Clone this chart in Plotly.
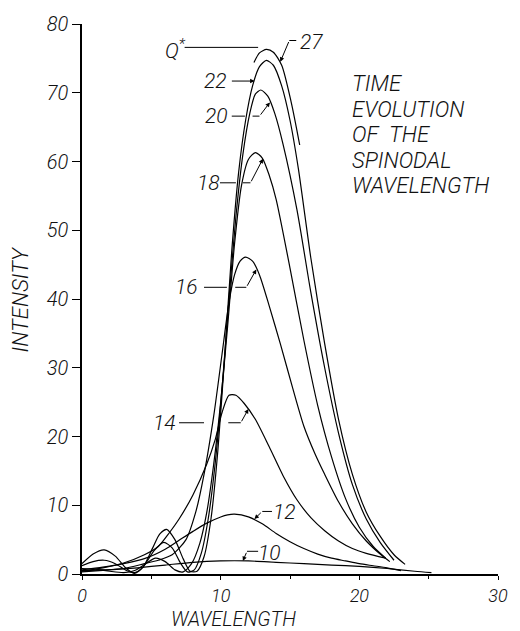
import plotly.graph_objects as go

# ---- data ----
x10 = [0, 2, 4, 6, 8, 10, 12, 14, 16, 18, 20, 22, 24, 25.2]
y10 = [0.3, 0.6, 0.9, 1.3, 1.7, 1.9, 1.9, 1.7, 1.5, 1.3, 1.1, 0.8, 0.4, 0.2]

x12 = [0, 1.5, 3, 4.6, 6, 7, 8, 9, 10, 10.5, 11, 12, 13, 14, 15, 16, 17, 18, 19, 20, 21, 22, 23]
y12 = [0.6, 1.0, 1.5, 2.3, 3.6, 4.9, 6.2, 7.4, 8.3, 8.6, 8.7, 8.3, 7.3, 5.9, 4.7, 3.7, 2.9, 2.3, 1.9, 1.5, 1.2, 0.9, 0.5]

x14 = [0, 1.5, 3, 4.5, 5.5, 6.3, 7, 8, 9, 9.6, 10.1, 10.6, 11.1, 11.7, 12.5, 13.5, 14.5, 15.5, 16.5, 17.5, 18.5, 19.5, 20.5, 21.9]
y14 = [0.4, 0.9, 1.6, 2.8, 4.0, 6.0, 8.0, 11.5, 16.0, 19.5, 23.5, 26.0, 26.0, 24.8, 22.5, 18.5, 14.3, 10.8, 8.2, 6.3, 4.8, 3.7, 3.0, 2.3]

x16 = [0, 1.5, 3, 4.5, 5.5, 6.5, 7.5, 8.2, 8.8, 9.5, 10.1, 10.6, 11.0, 11.4, 11.8, 12.3, 12.8, 13.5, 14.3, 15.2, 16.0, 16.8, 17.5, 18.5, 19.5, 20.5, 21.5, 22.2]
y16 = [0.5, 0.6, 0.8, 1.5, 2.0, 2.8, 5.0, 9.0, 14.5, 23.0, 32.0, 39.5, 43.5, 45.5, 46.1, 45.5, 43.5, 39.0, 33.5, 27.0, 21.5, 17.5, 14.5, 10.5, 7.3, 4.8, 2.9, 1.8]

x18 = [0, 1, 2, 3, 3.8, 4.6, 5.3, 6.0, 6.7, 7.3, 7.9, 8.5, 9.0, 9.5, 10.0, 10.5, 11.0, 11.5, 12.0, 12.5, 13.0, 13.5, 14.0, 15.0, 16.0, 17.0, 18.0, 19.0, 20.0, 21.0, 21.9]
y18 = [0.8, 0.7, 0.4, 0.2, 0.5, 1.5, 2.3, 1.8, 0.6, 0.3, 1.5, 4.5, 9.0, 16.0, 25.0, 36.0, 48.0, 56.5, 60.3, 61.3, 60.5, 58.0, 54.5, 44.5, 34.0, 24.5, 17.0, 11.0, 6.8, 4.0, 2.3]

x20 = [0, 0.8, 1.6, 2.4, 3.2, 3.8, 4.4, 5.2, 5.9, 6.5, 7.1, 7.6, 8.1, 8.6, 9.1, 9.6, 10.1, 10.6, 11.1, 11.6, 12.1, 12.5, 12.9, 13.4, 13.9, 14.5, 15.5, 16.5, 17.5, 18.5, 19.5, 20.5, 21.5, 22.5]
y20 = [1.2, 1.8, 2.0, 1.5, 0.5, 0.2, 1.0, 3.4, 4.6, 3.8, 1.6, 0.3, 0.6, 3.0, 8.0, 16.0, 27.0, 40.0, 52.0, 61.0, 67.0, 69.8, 70.4, 69.5, 67.0, 62.5, 53.0, 41.0, 30.0, 20.5, 13.0, 8.0, 4.6, 2.0]

x22 = [0, 0.8, 1.6, 2.4, 3.2, 3.8, 4.4, 5.1, 5.6, 6.1, 6.7, 7.3, 7.8, 8.3, 8.8, 9.3, 9.8, 10.3, 10.8, 11.3, 11.8, 12.3, 12.8, 13.3, 13.8, 14.4, 15.0, 15.6, 16.5, 17.5, 18.5, 19.5, 20.5, 21.5, 22.5, 23.3]
y22 = [1.5, 2.9, 3.5, 2.6, 0.8, 0.1, 1.0, 3.8, 5.8, 6.5, 5.0, 2.2, 0.4, 0.4, 2.5, 8.0, 18.0, 32.0, 47.0, 58.5, 66.0, 71.0, 73.8, 74.7, 74.0, 71.0, 66.0, 59.0, 46.0, 33.5, 22.5, 14.5, 9.0, 5.5, 2.8, 1.4]

x27 = [12.4, 12.8, 13.3, 13.8, 14.4, 15.1, 15.7]
y27 = [74.4, 75.8, 76.3, 75.9, 74.0, 68.5, 62.4]

series = [(x10, y10), (x12, y12), (x14, y14), (x16, y16), (x18, y18), (x20, y20), (x22, y22), (x27, y27)]

x_ticks = [0, 10, 20, 30]
y_ticks = [0, 10, 20, 30, 40, 50, 60, 70, 80]

FONT = "Roboto"
INK = "#111111"
WT = 300


def fnt(size):
    return dict(family=FONT, size=size, color=INK, style="italic", weight=WT)


fig = go.Figure()
for xs, ys in series:
    fig.add_trace(go.Scatter(x=xs, y=ys, mode="lines",
                             line=dict(color="black", width=1.2, shape="spline", smoothing=0.7),
                             showlegend=False, hoverinfo="skip"))

# leader lines (data coords)
segs = [
    (7.4, 76.6, 12.7, 76.6),          # Q*
    (9.95, 56.9, 11.1, 56.9), (11.6, 56.9, 12.15, 56.9),   # 18
    (10.8, 66.6, 11.75, 66.6), (12.3, 66.6, 12.8, 66.6),   # 20
    (8.8, 41.7, 10.45, 41.7), (11.05, 41.7, 11.85, 41.7),  # 16
    (7.0, 22.0, 8.8, 22.0), (10.55, 22.0, 11.45, 22.0),    # 14
    (13.7, 9.1, 13.0, 9.1),                                 # 12
    (12.7, 3.3, 11.9, 3.3),                                 # 10
    (15.45, 77.6, 14.95, 77.6),                             # 27
]
for x0, y0, x1, y1 in segs:
    fig.add_shape(type="line", x0=x0, y0=y0, x1=x1, y1=y1, xref="x", yref="y",
                  line=dict(color="black", width=1))

arrows = [
    (12.45, 71.7, 10.7, 71.7),   # 22
    (13.55, 68.6, 12.8, 66.6),   # 20
    (13.05, 60.4, 12.15, 56.9),  # 18
    (12.57, 44.3, 11.85, 41.7),  # 16
    (12.0, 24.0, 11.45, 22.0),   # 14
    (12.43, 8.0, 13.0, 9.1),     # 12
    (11.6, 1.9, 11.9, 3.3),      # 10
    (14.3, 74.5, 14.95, 77.6),   # 27
]
for x, y, ax, ay in arrows:
    fig.add_annotation(x=x, y=y, ax=ax, ay=ay, xref="x", yref="y", axref="x", ayref="y",
                       showarrow=True, arrowhead=2, arrowsize=0.9, arrowwidth=1,
                       arrowcolor="black", text="")

labels = [
    ("Q<sup>*</sup>", 6.75, 76.4), ("22", 9.64, 71.7), ("20", 9.7, 66.6), ("18", 9.14, 56.9),
    ("16", 7.57, 41.7), ("14", 5.93, 22.0), ("12", 14.6, 9.0), ("10", 13.5, 3.1), ("27", 16.55, 77.4),
]
for t, x, y in labels:
    fig.add_annotation(x=x, y=y, xref="x", yref="y", text=t, showarrow=False, font=fnt(21))

title_lines = ["TIME", "EVOLUTION", "OF\u00a0\u00a0THE", "SPINODAL", "WAVELENGTH"]
for i, t in enumerate(title_lines):
    fig.add_annotation(x=19.3, y=71.3 - i * 26 / 7, xref="x", yref="y", text=t, showarrow=False,
                       xanchor="left", yanchor="middle", font=fnt(22))

fig.add_annotation(x=10.9, y=-0.081, xref="x", yref="paper", text="WAVELENGTH", showarrow=False,
                   yanchor="middle", borderpad=0, font=fnt(20))
fig.add_annotation(x=-0.148, y=0.5, xref="paper", yref="paper", text="INTENSITY", showarrow=False,
                   xanchor="center", textangle=-90, font=fnt(22))

fig.update_xaxes(range=[0, 30], tickvals=x_ticks, ticktext=[str(v) for v in x_ticks],
                 showgrid=False, zeroline=False, showline=True, linecolor="black", linewidth=2,
                 ticks="outside", ticklen=4, tickcolor="black", tickwidth=1.2,
                 minor=dict(tickvals=[5, 15, 25], ticks="outside", ticklen=3, tickcolor="black"),
                 tickfont=fnt(18))
fig.update_yaxes(range=[0, 80], tickvals=y_ticks, ticktext=[str(v) for v in y_ticks],
                 showgrid=False, zeroline=False, showline=True, linecolor="black", linewidth=1.5,
                 ticks="outside", ticklen=8, tickcolor="black", tickwidth=1.2,
                 tickfont=fnt(20))

fig.update_layout(width=520, height=631, margin=dict(l=82, r=18, t=14, b=57),
                  plot_bgcolor="white", paper_bgcolor="white")
fig.write_html("out.html")
